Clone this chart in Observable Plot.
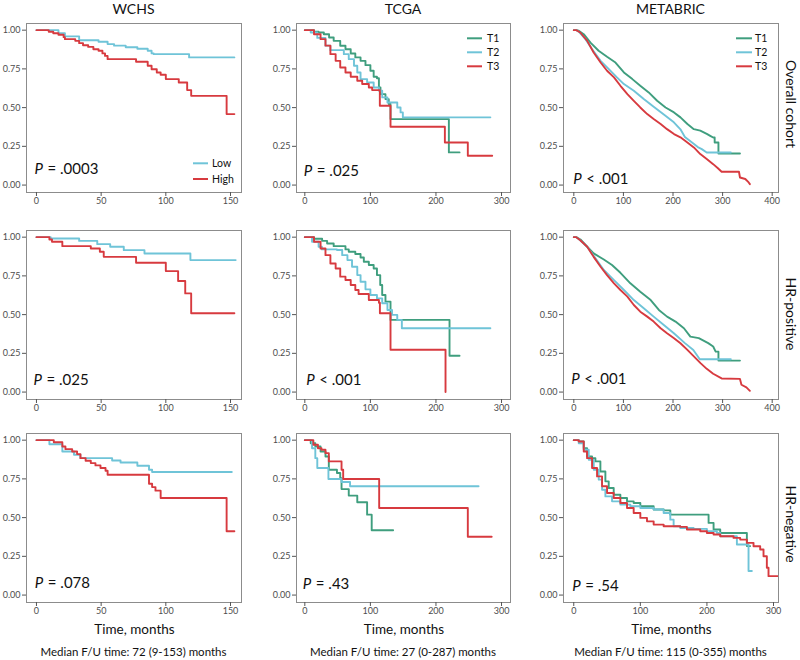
<!DOCTYPE html>
<html><head><meta charset="utf-8">
<script src="https://cdn.jsdelivr.net/npm/d3@7"></script>
<script src="https://cdn.jsdelivr.net/npm/@observablehq/plot@0.6"></script>
<style>
body{margin:0;background:#fff;font-family:Lato,"Open Sans",sans-serif;}
#root{position:relative;width:800px;height:660px;overflow:hidden;background:#fff;}
.lbl{position:absolute;white-space:nowrap;width:max-content;transform:translate(-50%,-50%);color:#111;line-height:1;}
</style></head><body><div id="root"></div>
<script>
// ---------- text ----------
const columnTitles = ["WCHS", "TCGA", "METABRIC"];
const rowTitles = ["Overall cohort", "HR-positive", "HR-negative"];
const xTitle = "Time, months";
const followUp = ["Median F/U time: 72 (9-153) months", "Median F/U time: 27 (0-287) months", "Median F/U time: 115 (0-355) months"];
const wchsGroups = ["Low", "High"];
const tumorGroups = ["T1", "T2", "T3"];
const pValues = [["= .0003", "= .025", "< .001"], ["= .025", "< .001", "< .001"], ["= .078", "= .43", "= .54"]];
const xTicksWCHS = [0, 50, 100, 150];
const xTicksTCGA = [0, 100, 200, 300];
const xTicksMeta = [0, 100, 200, 300, 400];
const xTicksMetaNeg = [0, 100, 200, 300];
const yTicks = [0, 0.25, 0.5, 0.75, 1];

// ---------- survival curves [time, survival] ----------
const wchsAllLow = [[0,1],[17,0.98],[22,0.96],[33,0.935],[48,0.925],[55,0.91],[60,0.90],[69,0.89],[78,0.88],[86,0.867],[89,0.85],[90.6,0.845],[118,0.824],[153,0.824]];
const wchsAllHigh = [[0,1],[9.5,0.99],[13,0.98],[17,0.97],[21,0.955],[22,0.942],[30,0.931],[33,0.916],[36,0.903],[40,0.892],[44,0.877],[48,0.867],[51,0.85],[53,0.834],[55,0.813],[77,0.796],[86,0.77],[89,0.748],[93,0.727],[96,0.712],[100,0.684],[110,0.662],[116.5,0.613],[119.6,0.576],[147,0.458],[153,0.458]];
const wchsPosLow = [[0,1],[11,0.991],[33,0.976],[47,0.955],[57,0.938],[67.5,0.916],[83.5,0.895],[119,0.852],[154,0.852]];
const wchsPosHigh = [[0,1],[10,0.985],[12,0.97],[20,0.942],[42,0.927],[49,0.906],[52,0.873],[77,0.835],[100,0.781],[109.5,0.717],[115,0.637],[119.6,0.509],[153,0.509]];
const wchsNegLow = [[0,1],[10,0.974],[20,0.927],[29,0.906],[34,0.884],[58.5,0.869],[65,0.856],[78,0.835],[87,0.809],[89.4,0.794],[151,0.794]];
const wchsNegHigh = [[0,1],[13.4,0.987],[20,0.959],[22.4,0.942],[27.6,0.927],[31.4,0.91],[34,0.884],[38,0.867],[42,0.852],[45.6,0.837],[49.5,0.82],[53.4,0.803],[55,0.777],[87,0.719],[89.4,0.697],[92,0.674],[96,0.627],[147,0.412],[153,0.412]];

const tcgaAllT1 = [[0,1],[14,0.99],[21,0.985],[29,0.974],[37,0.953],[44,0.931],[54,0.899],[62,0.877],[70,0.849],[77,0.824],[85,0.802],[92.5,0.774],[100,0.738],[105,0.699],[110,0.69],[113,0.63],[115.4,0.587],[123,0.555],[128,0.523],[130.7,0.426],[219.7,0.211],[236,0.211]];
const tcgaAllT2 = [[0,1],[9,0.985],[19,0.95],[31.5,0.9],[39,0.871],[59.5,0.845],[67,0.813],[75,0.77],[80,0.727],[85,0.684],[95,0.662],[105,0.63],[113,0.609],[118,0.566],[126,0.533],[141,0.501],[146,0.469],[149.5,0.437],[283,0.437]];
const tcgaAllT3 = [[0,1],[14,0.974],[24,0.942],[31.5,0.9],[39,0.845],[47,0.802],[54,0.759],[62,0.727],[70,0.699],[80,0.673],[87.5,0.652],[97.6,0.63],[102.7,0.613],[114.4,0.512],[130.7,0.376],[213.6,0.275],[248.6,0.189],[285.8,0.189]];
const tcgaPosT1 = [[0,1],[14,0.99],[26.4,0.976],[34,0.959],[44,0.942],[62,0.921],[67,0.906],[77,0.891],[85,0.869],[90,0.841],[97.6,0.82],[105,0.798],[110,0.755],[115,0.691],[118,0.627],[123,0.584],[130.7,0.466],[220.7,0.234],[236,0.234]];
const tcgaPosT2 = [[0,1],[11,0.97],[21,0.938],[26,0.921],[49,0.917],[57,0.884],[65,0.852],[72,0.809],[80,0.755],[85,0.712],[92.5,0.663],[100,0.627],[110,0.605],[118,0.573],[126,0.53],[133,0.498],[141,0.466],[148,0.412],[283,0.412]];
const tcgaPosT3 = [[0,1],[14,0.97],[24,0.927],[31.5,0.884],[39,0.83],[47,0.798],[54,0.745],[62,0.723],[70,0.691],[77,0.659],[82,0.633],[97.6,0.594],[113,0.577],[114.5,0.509],[130.7,0.273],[214.6,0]];
const tcgaNegT1 = [[0,1],[9,0.98],[16,0.959],[24,0.927],[31.5,0.895],[36.6,0.809],[49,0.788],[54,0.755],[56,0.684],[67,0.642],[80,0.599],[95,0.519],[102,0.418],[134.7,0.418]];
const tcgaNegT2 = [[0,1],[11,0.948],[16,0.884],[19,0.82],[36,0.749],[56,0.73],[69,0.702],[265,0.702]];
const tcgaNegT3 = [[0,1],[13,0.97],[20,0.948],[25.4,0.938],[31.5,0.916],[36.6,0.863],[56,0.809],[58.5,0.749],[113.4,0.562],[248.6,0.376],[285,0.376]];

// METABRIC overall / HR-positive: dense curves read as traced vertices
const metaAllT1 = [[0,1],[5,1],[10,0.996],[20,0.974],[33.6,0.92],[50,0.867],[67,0.828],[84,0.791],[101,0.727],[118,0.684],[134,0.641],[151,0.598],[168,0.544],[185,0.501],[202,0.469],[215,0.437],[229,0.394],[242,0.361],[255,0.351],[269,0.329],[275,0.318],[281,0.307],[284,0.307],[284,0.275],[291.6,0.275],[291.6,0.204],[335,0.204]];
const metaAllT2 = [[0,1],[5,1],[10,0.991],[23.5,0.942],[37,0.877],[54,0.802],[70.6,0.748],[87,0.695],[101,0.652],[121,0.609],[141,0.555],[161,0.505],[181.5,0.455],[201.7,0.405],[215,0.36],[224,0.31],[241,0.268],[250,0.245],[258,0.232],[268,0.21],[316.6,0.21]];
const metaAllT3 = [[0,1],[5,1],[13,0.985],[27,0.931],[40,0.856],[54,0.791],[67,0.738],[81,0.695],[94,0.641],[108,0.587],[121,0.544],[134,0.501],[148,0.458],[161,0.426],[175,0.394],[188,0.361],[202,0.329],[215,0.308],[229,0.275],[242,0.243],[255,0.2],[268,0.168],[281,0.135],[290,0.11],[298,0.086],[333,0.086],[335,0.049],[345.8,0.039],[352.6,0.017],[355,0.006]];
const metaPosT1 = [[0,1],[5,1],[13.4,0.985],[27,0.938],[40,0.895],[60.5,0.856],[77,0.82],[94,0.77],[114,0.702],[134,0.648],[155,0.594],[171.5,0.53],[188,0.487],[205,0.455],[222,0.412],[235,0.358],[252,0.348],[271,0.316],[281,0.294],[286,0.261],[291.6,0.261],[291.6,0.203],[335,0.203]];
const metaPosT2 = [[0,1],[5,1],[13,0.98],[27,0.938],[43.7,0.863],[60.5,0.788],[81,0.723],[101,0.659],[121,0.594],[141,0.541],[161,0.487],[181.5,0.433],[201.7,0.38],[224,0.316],[241,0.272],[254,0.212],[316.6,0.212]];
const metaPosT3 = [[0,1],[5,1],[13,0.98],[27,0.938],[40,0.873],[54,0.809],[67,0.755],[81,0.702],[94,0.659],[108,0.616],[121,0.562],[134,0.519],[148,0.487],[161,0.455],[175,0.412],[188,0.38],[202,0.348],[215,0.315],[229,0.272],[242,0.23],[255.5,0.187],[268,0.15],[281,0.118],[298,0.088],[335,0.085],[338,0.047],[348,0.03],[355,0.008]];
const metaNegT1 = [[0,1],[7.5,0.991],[15,0.948],[20,0.895],[27.5,0.884],[32.5,0.863],[40,0.798],[47.5,0.734],[52.5,0.691],[60,0.648],[70,0.627],[80,0.605],[90,0.594],[100,0.573],[120,0.552],[135,0.547],[145,0.519],[202.5,0.466],[210,0.423],[220,0.401],[260,0.316],[265,0.316]];
const metaNegT2 = [[0,1],[7.5,0.98],[15,0.938],[22.5,0.873],[30,0.809],[37.5,0.745],[42.5,0.68],[47.5,0.637],[57.5,0.605],[70,0.584],[85,0.573],[100,0.562],[120,0.552],[135,0.53],[145,0.487],[150,0.444],[160,0.433],[180,0.427],[200,0.412],[215,0.401],[220,0.38],[245,0.326],[262.5,0.155],[267.5,0.155]];
const metaNegT3 = [[0,1],[7.5,0.991],[15,0.927],[20,0.884],[27.5,0.82],[35,0.766],[42.5,0.702],[50,0.659],[60,0.627],[70,0.594],[80,0.562],[90,0.53],[100,0.498],[110,0.476],[120,0.455],[135,0.444],[160,0.44],[170,0.423],[190,0.412],[200,0.401],[210,0.391],[220,0.38],[240,0.369],[250,0.358],[260,0.337],[270,0.315],[280,0.294],[285,0.251],[290,0.176],[292.5,0.122],[355,0.122]];

// ---------- styling / layout ----------
const groupColors = {Low: "#6fc4d8", High: "#d73a3f", T1: "#3f9e7e", T2: "#6fc4d8", T3: "#d73a3f"};
const FONT = "Lato, 'Open Sans', sans-serif";
const cols = [{L: 26, R: 241}, {L: 296, R: 510}, {L: 563, R: 778}];
const rowsL = [{T: 23, B: 192}, {T: 230, B: 399}, {T: 433, B: 602}];
const ML = 32, MR = 3, MT = 3, MB = 24;

const panels = [
  {r:0,c:0, groups:wchsGroups, series:[wchsAllLow, wchsAllHigh], xd:[-7.7,158.5], ticks:xTicksWCHS, pdx:8, pdy:18.5, legend:"bottom", curve:"step-after"},
  {r:0,c:1, groups:tumorGroups, series:[tcgaAllT1, tcgaAllT2, tcgaAllT3], xd:[-12.7,313.7], ticks:xTicksTCGA, pdx:7.3, pdy:17, legend:"top", curve:"step-after"},
  {r:0,c:2, groups:tumorGroups, series:[metaAllT1, metaAllT2, metaAllT3], xd:[-20.8,412.7], ticks:xTicksMeta, pdx:9.7, pdy:9, legend:"top", curve:"linear"},
  {r:1,c:0, groups:wchsGroups, series:[wchsPosLow, wchsPosHigh], xd:[-7.7,158.5], ticks:xTicksWCHS, pdx:7, pdy:15, curve:"step-after"},
  {r:1,c:1, groups:tumorGroups, series:[tcgaPosT1, tcgaPosT2, tcgaPosT3], xd:[-12.7,313.7], ticks:xTicksTCGA, pdx:9.7, pdy:15, curve:"step-after"},
  {r:1,c:2, groups:tumorGroups, series:[metaPosT1, metaPosT2, metaPosT3], xd:[-20.8,412.7], ticks:xTicksMeta, pdx:7.7, pdy:16, curve:"linear"},
  {r:2,c:0, groups:wchsGroups, series:[wchsNegLow, wchsNegHigh], xd:[-7.7,158.5], ticks:xTicksWCHS, pdx:8.3, pdy:15, curve:"step-after"},
  {r:2,c:1, groups:tumorGroups, series:[tcgaNegT1, tcgaNegT2, tcgaNegT3], xd:[-12.7,313.7], ticks:xTicksTCGA, pdx:6.3, pdy:13.3, curve:"step-after"},
  {r:2,c:2, groups:tumorGroups, series:[metaNegT1, metaNegT2, metaNegT3], xd:[-15.4,307.5], ticks:xTicksMetaNeg, pdx:8.7, pdy:11.7, curve:"step-after"}
];

const root = document.getElementById("root");

for (const p of panels) {
  const {L, R} = cols[p.c], {T, B} = rowsL[p.r];
  const fw = R - L, fh = B - T;
  const width = fw + ML + MR, height = fh + MT + MB;
  const rows = p.groups.flatMap((g, i) => p.series[i].map(([t, s]) => ({t, s, g})));
  const svg = Plot.plot({
    width, height, marginLeft: ML, marginRight: MR, marginTop: MT, marginBottom: MB,
    x: {domain: p.xd},
    y: {domain: [-0.048, 1.043]},
    color: {domain: p.groups, range: p.groups.map(g => groupColors[g])},
    style: {fontFamily: FONT, fontSize: "9px", color: "#4d4d4d", background: "transparent", overflow: "visible"},
    marks: [
      Plot.frame({stroke: "#8c8c8c", strokeWidth: 1}),
      Plot.axisX({ticks: p.ticks, tickSize: 4, tickPadding: 1.5, tickFormat: d => String(d), label: null, stroke: "#555"}),
      Plot.axisY({ticks: yTicks, tickSize: 4, tickPadding: 2, tickFormat: d3.format(".2f"), label: null, stroke: "#555"}),
      Plot.line(rows, {x: "t", y: "s", z: "g", stroke: "g", curve: p.curve, strokeWidth: 1.9, clip: true}),
      Plot.text(["P"], {text: d => d, frameAnchor: "bottom-left", textAnchor: "start", dx: p.pdx, dy: -p.pdy, fontSize: 15, fontStyle: "italic", fill: "#111"}),
      Plot.text([pValues[p.r][p.c]], {text: d => d, frameAnchor: "bottom-left", textAnchor: "start", dx: p.pdx + 13, dy: -p.pdy, fontSize: 15, fill: "#111"})
    ]
  });
  svg.style.position = "absolute";
  svg.style.left = (L - ML) + "px";
  svg.style.top = (T - MT) + "px";
  svg.style.maxWidth = "none";
  if (p.legend) {
    const g = d3.select(svg).append("g").attr("font-family", FONT).attr("font-size", 10.5).attr("fill", "#111").attr("text-anchor", "start");
    const fr = ML + fw;
    const off = p.c === 0 ? {x1: -48, x2: -33, tx: -29} : p.c === 1 ? {x1: -43, x2: -28, tx: -23} : {x1: -42, x2: -26, tx: -23};
    p.groups.forEach((k, i) => {
      const y = p.legend === "bottom" ? MT + fh - 28.7 + i * 15.7 : MT + 15.3 + i * 14;
      g.append("line").attr("x1", fr + off.x1).attr("x2", fr + off.x2).attr("y1", y).attr("y2", y)
        .attr("stroke", groupColors[k]).attr("stroke-width", 2);
      g.append("text").attr("x", fr + off.tx).attr("y", y).attr("dy", "0.35em").attr("text-anchor", "start").text(k);
    });
  }
  root.appendChild(svg);
}

function label(text, x, y, size, extra = "") {
  const d = document.createElement("div");
  d.className = "lbl";
  d.textContent = text;
  d.style.left = x + "px";
  d.style.top = y + "px";
  d.style.fontSize = size + "px";
  if (extra) d.style.transform = extra;
  root.appendChild(d);
}
columnTitles.forEach((t, i) => label(t, (cols[i].L + cols[i].R) / 2, 9, 14));
columnTitles.forEach((t, i) => label(xTitle, (cols[i].L + cols[i].R) / 2 + 1, 630, 13.5));
followUp.forEach((t, i) => label(t, (cols[i].L + cols[i].R) / 2, 652, 11.5));
const rowCenters = [104, 314, 524];
rowTitles.forEach((t, i) => label(t, 790.5, rowCenters[i], 14, "translate(-50%,-50%) rotate(90deg)"));
</script>
</body></html>
